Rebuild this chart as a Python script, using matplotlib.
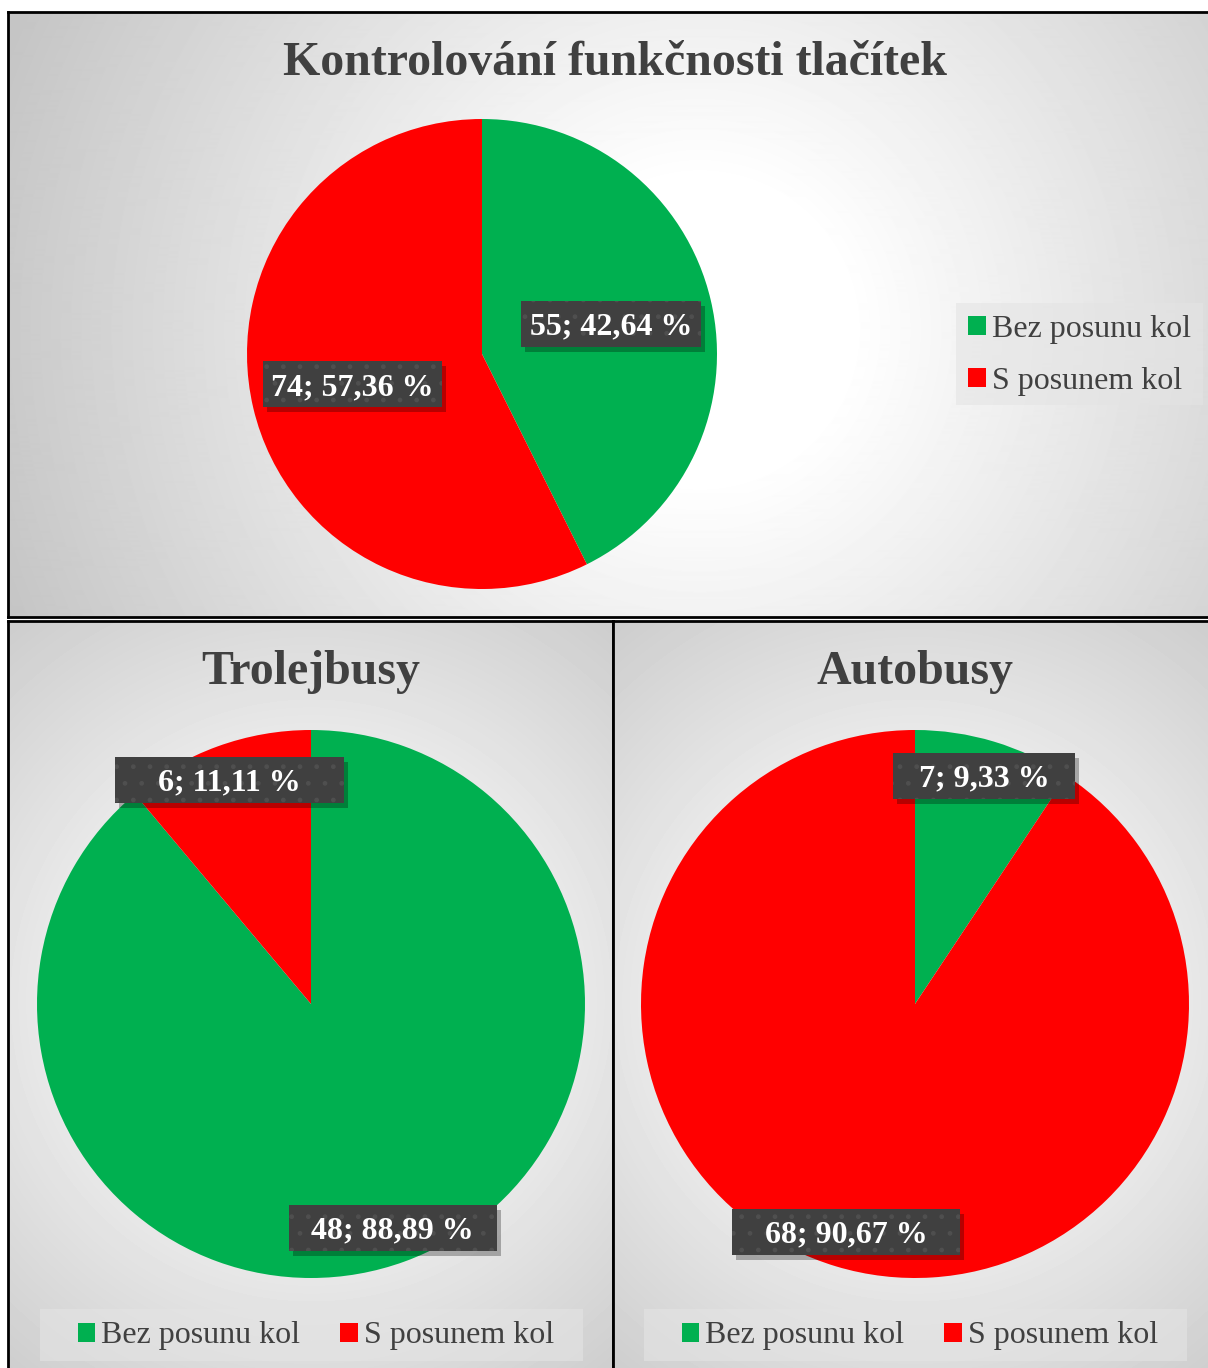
import matplotlib.pyplot as plt
import matplotlib.transforms as mtransforms
from matplotlib.patches import Patch, Rectangle
import numpy as np

categories = ['Bez posunu kol', 'S posunem kol']
celkem = [55, 74]
trolejbusy = [48, 6]
autobusy = [7, 68]
titles = ['Kontrolování funkčnosti tlačítek', 'Trolejbusy', 'Autobusy']
colors = ['#00B050', '#FF0000']

W, H = 1208, 1368
SERIF = ['Liberation Serif', 'DejaVu Serif']
TXT = '#404040'

fig = plt.figure(figsize=(W / 100, H / 100), dpi=100)


def px_axes(x0, y0, x1, y1, **kw):
    # axes from pixel box (top-left origin)
    return fig.add_axes([x0 / W, 1 - y1 / H, (x1 - x0) / W, (y1 - y0) / H], **kw)


def px_rect(x0, y0, x1, y1, **kw):
    fig.patches.append(Rectangle((x0 / W, 1 - y1 / H), (x1 - x0) / W, (y1 - y0) / H,
                                 transform=fig.transFigure, **kw))


def panel(x0, y0, x1, y1, cx, cy, r0, span):
    ax = px_axes(x0, y0, x1, y1)
    xs = np.arange(x0, x1)
    ys = np.arange(y0, y1)
    X, Y = np.meshgrid(xs, ys)
    d = np.hypot(X - cx, Y - cy)
    img = 1 - 0.23 * np.clip((d - r0) / span, 0, 1)
    ax.imshow(img, cmap='gray', vmin=0, vmax=1, extent=[0, 1, 0, 1],
              aspect='auto', origin='upper', interpolation='bilinear')
    ax.set_xticks([])
    ax.set_yticks([])
    for s in ax.spines.values():
        s.set_linewidth(2)
        s.set_color('black')
    return ax


panel(8, 12, 1215, 617, 700, 330, 150, 600)
panel(8, 621, 613, 1380, 311, 1000, 90, 460)
panel(613, 621, 1215, 1380, 915, 1000, 90, 460)


def fmt(v, p):
    return f'{v}; {p:.2f} %'.replace('.', ',')


def draw_pie(values, cx, cy, r, dist, box_w):
    ax = px_axes(cx - r, cy - r, cx + r, cy + r)
    ax.set_facecolor('none')
    wedges, texts, autos = ax.pie(values, colors=colors, startangle=90, counterclock=False,
                                  autopct=lambda p: '', pctdistance=dist,
                                  wedgeprops=dict(linewidth=0))
    ax.set_xlim(-1, 1)
    ax.set_ylim(-1, 1)
    ax.set_aspect('auto')
    total = sum(values)
    bh = 46
    text_tr = mtransforms.offset_copy(ax.transData, fig=fig, x=0, y=-3, units='dots')
    for t, v, bw in zip(autos, values, box_w):
        x, y = t.get_position()
        tr = mtransforms.Affine2D() + mtransforms.ScaledTranslation(x, y, ax.transData)
        ax.add_patch(Rectangle((-bw / 2 + 4, -bh / 2 - 5), bw, bh, transform=tr,
                               facecolor='black', alpha=0.28, linewidth=0, zorder=4, clip_on=False))
        ax.add_patch(Rectangle((-bw / 2, -bh / 2), bw, bh, transform=tr, facecolor='#404040',
                               edgecolor='#4f4f4f', hatch='.', linewidth=0, zorder=4.5,
                               clip_on=False))
        t.set_text(fmt(v, 100 * v / total))
        t.set_transform(text_tr)
        t.set_color('white')
        t.set_fontsize(23)
        t.set_fontweight('bold')
        t.set_family(SERIF)
        t.set_zorder(5)
    return ax


draw_pie(celkem, 482, 354, 235, 0.565, [180, 179])
draw_pie(trolejbusy, 311, 1004, 274, 0.87, [208, 229])
draw_pie(autobusy, 915, 1004, 274, 0.87, [182, 228])

fig.text(615 / W, 1 - 63 / H, titles[0], ha='center', va='center', fontsize=34.5,
         fontweight='bold', family=SERIF, color=TXT)
fig.text(311 / W, 1 - 672 / H, titles[1], ha='center', va='center', fontsize=34.5,
         fontweight='bold', family=SERIF, color=TXT)
fig.text(915 / W, 1 - 672 / H, titles[2], ha='center', va='center', fontsize=34.5,
         fontweight='bold', family=SERIF, color=TXT)

# legend backgrounds
px_rect(956, 303, 1203, 405, facecolor='#e4e4e4', alpha=0.6, linewidth=0)
px_rect(40, 1309, 583, 1361, facecolor='#e4e4e4', alpha=0.6, linewidth=0)
px_rect(644, 1309, 1187, 1361, facecolor='#e4e4e4', alpha=0.6, linewidth=0)

handles = [Patch(facecolor=c, edgecolor='none') for c in colors]
leg_kw = dict(frameon=False, handlelength=0.55, handleheight=0.55, handletextpad=0.2,
              prop=dict(family=SERIF, size=23), labelcolor=TXT, borderaxespad=0,
              borderpad=0)

fig.legend(handles, categories, loc='center left', bbox_to_anchor=(968 / W, 1 - 355 / H),
           labelspacing=0.72, **leg_kw)
fig.legend(handles, categories, loc='center', bbox_to_anchor=(316 / W, 1 - 1336 / H),
           ncol=2, columnspacing=1.25, **leg_kw)
fig.legend(handles, categories, loc='center', bbox_to_anchor=(920 / W, 1 - 1336 / H),
           ncol=2, columnspacing=1.25, **leg_kw)

fig.savefig('out.png', dpi=100, facecolor='white')
